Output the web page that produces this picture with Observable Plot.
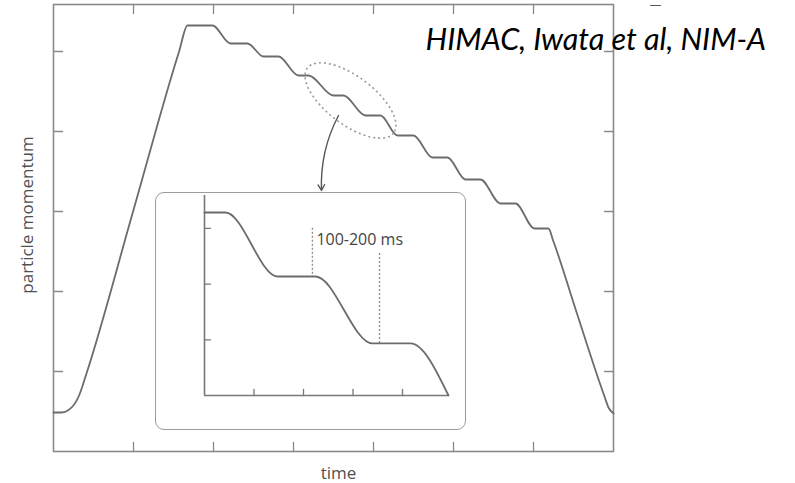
<!DOCTYPE html>
<html><head><meta charset="utf-8">
<script src="https://cdn.jsdelivr.net/npm/d3@7"></script>
<script src="https://cdn.jsdelivr.net/npm/@observablehq/plot@0.6"></script>
<style>
body{margin:0;background:#fff;}
#wrap{position:relative;width:795px;height:483px;overflow:hidden;background:#fff;}
#wrap svg{position:absolute;left:0;top:0;}
#box{position:absolute;left:155px;top:192px;width:311px;height:238px;box-sizing:border-box;border:1.5px solid #9c9c9c;border-radius:9px;background:#fff;}
</style></head><body><div id="wrap"></div>
<script>
// ---- data (arbitrary units) ----
const mainTime     = [0, 0.1, 0.2375, 0.325, 0.4125, 0.9947, 1.5698, 1.675, 1.9875, 2.2125, 2.425, 2.625, 2.8125, 3.0625, 3.1875, 3.5, 3.625, 3.9, 4.0875, 4.3, 4.5, 4.7375, 4.925, 5.15, 5.3375, 5.5875, 5.775, 6.0125, 6.1875, 6.245, 6.53125, 6.8175, 6.8875, 6.9375, 7.0];
const mainMomentum = [0.4875, 0.4875, 0.5625, 0.7125, 0.975, 3.0, 5.0, 5.325, 5.325, 5.1, 5.1, 4.9375, 4.9375, 4.7, 4.7, 4.45, 4.45, 4.2, 4.2, 3.95, 3.95, 3.675, 3.675, 3.4, 3.4, 3.1, 3.1, 2.7875, 2.7875, 2.6375, 1.7625, 0.8875, 0.6875, 0.55, 0.475];
const mainXTicks = [1, 2, 3, 4, 5, 6];
const mainYTicks = [1, 2, 3, 4, 5];
const zoomCenter = [{t: 3.7125, p: 4.3875}];
const zoomArrow  = [{t1: 3.5625, p1: 4.2, t2: 3.35, p2: 3.2625}];

const insetTime     = [0, 0.424, 1.475, 2.242, 3.394, 4.162, 4.929];
const insetMomentum = [3.285, 3.285, 2.136, 2.136, 0.934, 0.934, 0];
const insetXTicks = [1, 2, 3, 4];
const insetYTicks = [1, 2, 3];
const insetMarkers = [{t: 2.18, p1: 3.0, p2: 2.136}, {t: 3.535, p1: 2.55, p2: 0.934}];
const insetLabel = [{t: 2.26, p: 2.71, text: "100-200 ms"}];

const xLabel = "time";
const yLabel = "particle momentum";
const sourceText = "HIMAC, Iwata et al, NIM-A";

// ---- styles ----
const frameColor = "#8a8a8a";
const curveColor = "#6c6c6c";
const textColor = "#505050";
const font = "'Open Sans', sans-serif";

const tickShape = {draw(ctx, l) { ctx.moveTo(0, 0); ctx.lineTo(0, -l); }};
const ellipseSymbol = {draw(ctx) {
  const a = 54, b = 24, th = 37 * Math.PI / 180, k = 0.5523;
  const c = Math.cos(th), s = Math.sin(th);
  const P = (x, y) => [x * c - y * s, x * s + y * c];
  ctx.moveTo(...P(a, 0));
  ctx.bezierCurveTo(...P(a, b * k), ...P(a * k, b), ...P(0, b));
  ctx.bezierCurveTo(...P(-a * k, b), ...P(-a, b * k), ...P(-a, 0));
  ctx.bezierCurveTo(...P(-a, -b * k), ...P(-a * k, -b), ...P(0, -b));
  ctx.bezierCurveTo(...P(a * k, -b), ...P(a, -b * k), ...P(a, 0));
  ctx.closePath();
}};

const mainData = mainTime.map((t, i) => ({t, p: mainMomentum[i]}));
const insetData = insetTime.map((t, i) => ({t, p: insetMomentum[i]}));

const tickOpts = {length: 9, anchor: "start", shape: tickShape, stroke: frameColor, strokeWidth: 1.3};

const main = Plot.plot({
  width: 795, height: 483,
  marginLeft: 53, marginRight: 182, marginTop: 4, marginBottom: 32,
  style: {background: "transparent", overflow: "visible"},
  x: {domain: [0, 7], axis: null},
  y: {domain: [0, 5.5875], axis: null},
  marks: [
    Plot.frame({stroke: frameColor, strokeWidth: 1.6}),
    Plot.vector(mainXTicks, {x: d => d, frameAnchor: "bottom", ...tickOpts}),
    Plot.vector(mainXTicks, {x: d => d, frameAnchor: "top", rotate: 180, ...tickOpts}),
    Plot.vector(mainYTicks, {y: d => d, frameAnchor: "left", rotate: 90, ...tickOpts}),
    Plot.vector(mainYTicks, {y: d => d, frameAnchor: "right", rotate: -90, ...tickOpts}),
    Plot.line(mainData, {x: "t", y: "p", curve: "monotone-x", stroke: curveColor, strokeWidth: 1.8}),
    Plot.dot(zoomCenter, {x: "t", y: "p", symbol: ellipseSymbol, fill: "none", stroke: "#9a9a9a", strokeWidth: 1.6, strokeDasharray: "2,3"}),
    Plot.arrow(zoomArrow, {x1: "t1", y1: "p1", x2: "t2", y2: "p2", bend: -15, headLength: 7, stroke: "#555", strokeWidth: 1.4}),
    Plot.text([yLabel], {frameAnchor: "left", textAnchor: "middle", rotate: -90, dx: -26, dy: -13, fontSize: 17, fontFamily: font, fill: textColor}),
    Plot.text([xLabel], {frameAnchor: "bottom", textAnchor: "middle", lineAnchor: "top", dx: 5, dy: 15, fontSize: 17, fontFamily: font, fill: textColor}),
    Plot.text([sourceText], {frameAnchor: "top-left", textAnchor: "start", lineAnchor: "top", dx: 372, dy: 24, fontSize: 30.5, fontStyle: "italic", fontFamily: "Lato, sans-serif", fill: "#000"}),
    // small stray dash at the top edge of the reference
    Plot.vector([0], {frameAnchor: "top-right", dx: 37, dy: 1, rotate: 90, length: 10, anchor: "start", shape: tickShape, stroke: "#555", strokeWidth: 1})
  ]
});

const inset = Plot.plot({
  width: 311, height: 238,
  marginLeft: 49, marginRight: 18, marginTop: 3, marginBottom: 35,
  style: {background: "transparent"},
  x: {domain: [0, 4.929], axis: null},
  y: {domain: [0, 3.59], axis: null},
  marks: [
    Plot.ruleX([0], {stroke: "#777", strokeWidth: 1.6}),
    Plot.ruleY([0], {stroke: "#777", strokeWidth: 1.6}),
    Plot.vector(insetXTicks, {x: d => d, frameAnchor: "bottom", ...tickOpts, length: 6, stroke: "#777"}),
    Plot.vector(insetYTicks, {y: d => d, frameAnchor: "left", rotate: 90, ...tickOpts, length: 6, stroke: "#777"}),
    Plot.ruleX(insetMarkers, {x: "t", y1: "p1", y2: "p2", stroke: "#8a8a8a", strokeWidth: 1.3, strokeDasharray: "2,2"}),
    Plot.line(insetData, {x: "t", y: "p", curve: "monotone-x", stroke: curveColor, strokeWidth: 1.8}),
    Plot.text(insetLabel, {x: "t", y: "p", text: "text", textAnchor: "start", lineAnchor: "bottom", fontSize: 16, fontFamily: font, fill: "#444"})
  ]
});

const wrap = document.getElementById("wrap");
wrap.appendChild(main);
const box = document.createElement("div");
box.id = "box";
wrap.appendChild(box);
inset.style.left = "155px";
inset.style.top = "192px";
wrap.appendChild(inset);
</script>
</body></html>
